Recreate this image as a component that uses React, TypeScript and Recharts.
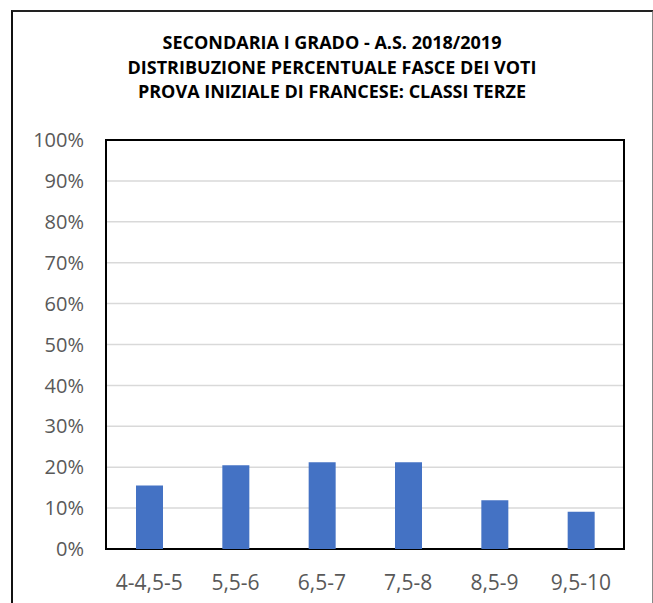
import { BarChart, Bar, XAxis, YAxis, CartesianGrid, usePlotArea } from 'recharts';

// fasce di voto e percentuali
const fasce = ['4-4,5-5', '5,5-6', '6,5-7', '7,5-8', '8,5-9', '9,5-10'];
const percentuali = [15.5, 20.5, 21.2, 21.2, 11.9, 9.1];
const yTicks = [0, 10, 20, 30, 40, 50, 60, 70, 80, 90, 100];
const titolo = [
  'SECONDARIA I GRADO - A.S. 2018/2019',
  'DISTRIBUZIONE PERCENTUALE FASCE DEI VOTI',
  'PROVA INIZIALE DI FRANCESE: CLASSI TERZE',
];

const data = fasce.map((fascia, i) => ({ fascia, valore: percentuali[i] }));

const tickStyle = { fill: '#595959', fontSize: 20, fontFamily: "'Open Sans', sans-serif" };

// bordo nero attorno all'area del grafico
function PlotFrame() {
  const area = usePlotArea();
  if (!area) return null;
  return <rect x={area.x} y={area.y} width={area.width} height={area.height} fill="none" stroke="#000" strokeWidth={2} />;
}

export default function App() {
  return (
    <div style={{ position: 'absolute', left: 0, top: 0, width: 653, height: 603, overflow: 'hidden', background: '#fff' }}>
      {/* cornice esterna */}
      <div
        style={{
          position: 'absolute',
          left: 11,
          top: 10,
          width: 639,
          height: 640,
          borderLeft: '2px solid #111',
          borderTop: '2px solid #222',
          borderRight: '2px solid #888',
        }}
      />
      <div
        style={{
          position: 'absolute',
          left: 12,
          top: 30,
          width: 640,
          textAlign: 'center',
          fontFamily: "'Open Sans', sans-serif",
          fontWeight: 700,
          fontSize: 18,
          lineHeight: '24.7px',
          color: '#000',
        }}
      >
        {titolo.map((riga) => (
          <div key={riga}>{riga}</div>
        ))}
      </div>
      <div style={{ position: 'absolute', left: 0, top: 0 }}>
        <BarChart width={653} height={603} data={data} margin={{ top: 140, right: 29, bottom: 0, left: 0 }}>
          <CartesianGrid vertical={false} stroke="#D9D9D9" strokeWidth={1.5} />
          <XAxis
            dataKey="fascia"
            height={54}
            tickLine={false}
            tickSize={0}
            tickMargin={26}
            axisLine={false}
            tick={{ ...tickStyle, fontSize: 21 }}
            interval={0}
          />
          <YAxis
            domain={[0, 100]}
            ticks={yTicks}
            width={106}
            tickLine={false}
            tickSize={0}
            tickMargin={22}
            axisLine={false}
            tick={tickStyle}
            tickFormatter={(v) => `${v}%`}
            interval={0}
          />
          <Bar dataKey="valore" fill="#4472C4" barSize={27} isAnimationActive={false} />
          <PlotFrame />
        </BarChart>
      </div>
    </div>
  );
}
